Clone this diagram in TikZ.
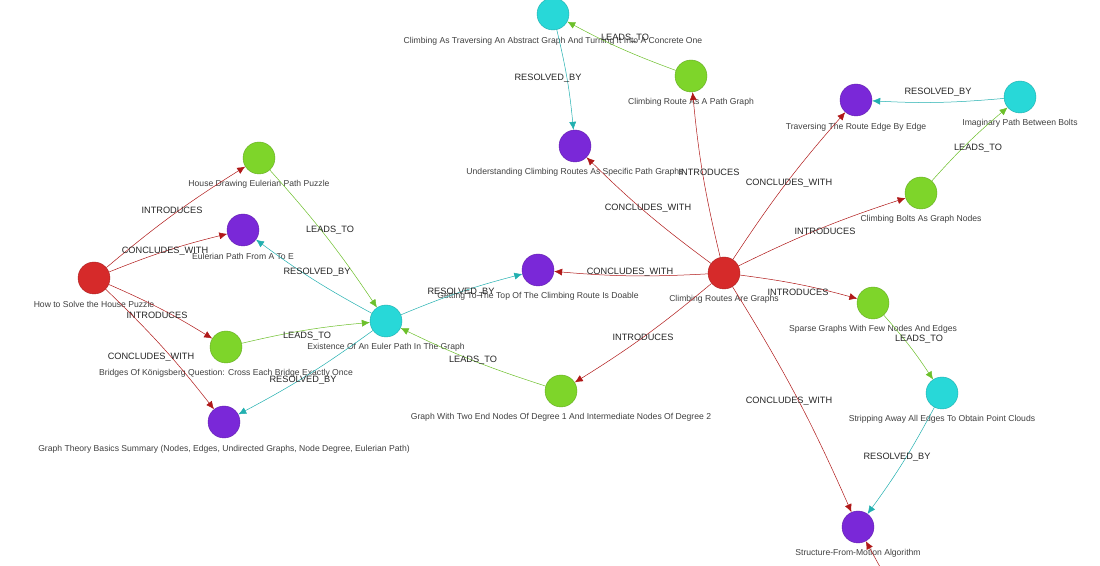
\documentclass[tikz,border=0pt]{standalone}
\usepackage{fontspec}
\setmainfont{Liberation Sans}
\usetikzlibrary{arrows.meta}
\definecolor{cred}{HTML}{D62A2A}
\definecolor{cgreen}{HTML}{7ED52A}
\definecolor{ccyan}{HTML}{28D8D8}
\definecolor{cpurp}{HTML}{7A28D8}
\definecolor{ered}{HTML}{B01818}
\definecolor{egreen}{HTML}{6CC02A}
\definecolor{ecyan}{HTML}{22B0B0}
\tikzset{
 nd/.style={circle,minimum size=16pt,inner sep=0pt,draw=#1!80!black,line width=0.2pt,fill=#1},
 lb/.style={font=\fontsize{4.3}{5}\selectfont,text=black!75,inner sep=0.5pt},
 el/.style={font=\fontsize{4.6}{5}\selectfont,text=black!85,inner sep=0.5pt},
 e/.style={draw=#1,line width=0.25pt,-{Latex[length=4pt,width=3.5pt]},bend left=4},
}
\begin{document}
\begin{tikzpicture}[x=0.5pt,y=-0.5pt]
\useasboundingbox (0,0) rectangle (1100,566);
\clip (0,0) rectangle (1100,566);
\fill[white] (0,0) rectangle (1100,566);
% nodes
\node[nd=cred] (HP) at (94,278) {};
\node[nd=cred] (CR) at (724,273) {};
\node[nd=cgreen] (HD) at (259,158) {};
\node[nd=cgreen] (BK) at (226,347) {};
\node[nd=cgreen] (CP) at (691,76) {};
\node[nd=cgreen] (CB) at (921,193) {};
\node[nd=cgreen] (SG) at (873,303) {};
\node[nd=cgreen] (GT) at (561,391) {};
\node[nd=ccyan] (CT) at (553,14) {};
\node[nd=ccyan] (IP) at (1020,97) {};
\node[nd=ccyan] (EX) at (386,321) {};
\node[nd=ccyan] (SA) at (942,393) {};
\node[nd=cpurp] (UC) at (575,146) {};
\node[nd=cpurp] (TR) at (856,100) {};
\node[nd=cpurp] (EA) at (243,230) {};
\node[nd=cpurp] (GTop) at (538,270) {};
\node[nd=cpurp] (GB) at (224,422) {};
\node[nd=cpurp] (SM) at (858,527) {};
\coordinate (OFF) at (890,585);
% labels
\node[lb] at (94,304) {How to Solve the House Puzzle};
\node[lb] at (724,299) {Climbing Routes Are Graphs};
\node[lb] at (259,184) {House Drawing Eulerian Path Puzzle};
\node[lb] at (226,373) {Bridges Of Königsberg Question: Cross Each Bridge Exactly Once};
\node[lb] at (691,102) {Climbing Route As A Path Graph};
\node[lb] at (921,219) {Climbing Bolts As Graph Nodes};
\node[lb] at (873,329) {Sparse Graphs With Few Nodes And Edges};
\node[lb] at (561,417) {Graph With Two End Nodes Of Degree 1 And Intermediate Nodes Of Degree 2};
\node[lb] at (553,41) {Climbing As Traversing An Abstract Graph And Turning It Into A Concrete One};
\node[lb] at (1020,123) {Imaginary Path Between Bolts};
\node[lb] at (386,347) {Existence Of An Euler Path In The Graph};
\node[lb] at (942,419) {Stripping Away All Edges To Obtain Point Clouds};
\node[lb] at (575,172) {Understanding Climbing Routes As Specific Path Graphs};
\node[lb] at (856,127) {Traversing The Route Edge By Edge};
\node[lb] at (243,256) {Eulerian Path From A To E};
\node[lb] at (538,296) {Getting To The Top Of The Climbing Route Is Doable};
\node[lb] at (224,449) {Graph Theory Basics Summary (Nodes, Edges, Undirected Graphs, Node Degree, Eulerian Path)};
\node[lb] at (858,553) {Structure-From-Motion Algorithm};
% edges
\draw[e=ered] (HP) to (HD); \node[el] at (172,210) {INTRODUCES};
\draw[e=ered] (HP) to (EA); \node[el] at (165,251) {CONCLUDES\_WITH};
\draw[e=ered] (HP) to (BK); \node[el] at (157,315) {INTRODUCES};
\draw[e=ered] (HP) to (GB); \node[el] at (151,357) {CONCLUDES\_WITH};
\draw[e=egreen] (HD) to (EX); \node[el] at (330,230) {LEADS\_TO};
\draw[e=egreen] (BK) to (EX); \node[el] at (307,336) {LEADS\_TO};
\draw[e=ecyan] (EX) to (EA); \node[el] at (317,272) {RESOLVED\_BY};
\draw[e=ecyan] (EX) to (GB); \node[el] at (303,380) {RESOLVED\_BY};
\draw[e=ecyan] (EX) to (GTop); \node[el] at (461,292) {RESOLVED\_BY};
\draw[e=egreen] (GT) to (EX); \node[el] at (473,360) {LEADS\_TO};
\draw[e=ered] (CR) to (GTop); \node[el] at (630,272) {CONCLUDES\_WITH};
\draw[e=ered] (CR) to (GT); \node[el] at (643,337) {INTRODUCES};
\draw[e=ered] (CR) to (UC); \node[el] at (648,208) {CONCLUDES\_WITH};
\draw[e=ered] (CR) to (CP); \node[el] at (709,172) {INTRODUCES};
\draw[e=ered] (CR) to (TR); \node[el] at (789,183) {CONCLUDES\_WITH};
\draw[e=ered] (CR) to (CB); \node[el] at (825,231) {INTRODUCES};
\draw[e=ered] (CR) to (SG); \node[el] at (798,292) {INTRODUCES};
\draw[e=ered] (CR) to (SM); \node[el] at (789,401) {CONCLUDES\_WITH};
\draw[e=egreen] (CP) to (CT); \node[el] at (625,38) {LEADS\_TO};
\draw[e=ecyan] (CT) to (UC); \node[el] at (548,78) {RESOLVED\_BY};
\draw[e=egreen] (CB) to (IP); \node[el] at (978,148) {LEADS\_TO};
\draw[e=ecyan] (IP) to (TR); \node[el] at (938,92) {RESOLVED\_BY};
\draw[e=egreen] (SG) to (SA); \node[el] at (919,339) {LEADS\_TO};
\draw[e=ecyan] (SA) to (SM); \node[el] at (897,457) {RESOLVED\_BY};
\draw[e=ered,bend left=0] (OFF) to (SM);
\end{tikzpicture}
\end{document}
